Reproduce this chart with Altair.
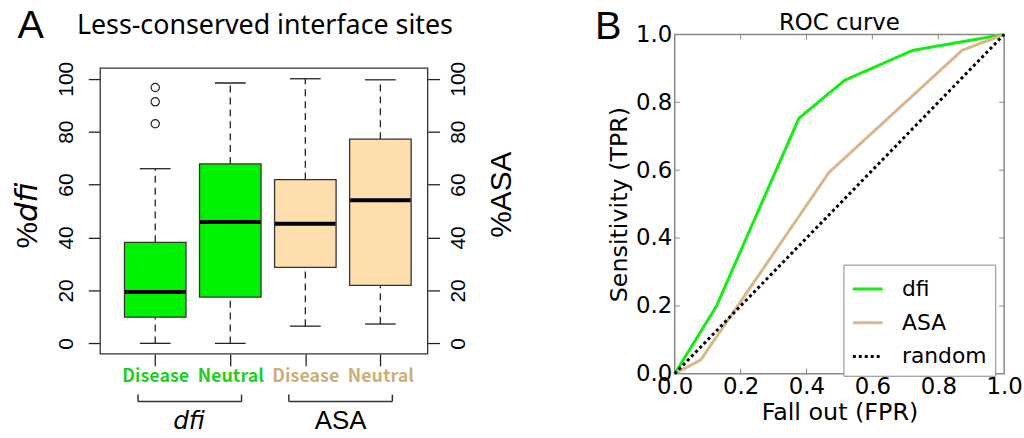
import altair as alt
import pandas as pd

# ---------------- Panel A data (box plots) ----------------
box_labels = ["Disease", "Neutral", "Disease", "Neutral"]
box_groups = ["dfi", "dfi", "ASA", "ASA"]
box_pos = [1, 2, 3, 4]
whisker_low = [0.0, 0.0, 6.5, 7.3]
quart1 = [9.9, 17.5, 28.7, 21.9]
medians = [19.4, 45.9, 45.2, 54.1]
quart3 = [38.2, 67.8, 61.9, 77.2]
whisker_high = [66.0, 98.4, 100.0, 99.6]
outlier_pos = [1, 1, 1]
outlier_val = [83.0, 91.3, 96.7]
y_ticks = [0, 20, 40, 60, 80, 100]

group_names = ["dfi", "ASA"]
group_center = [1.45, 3.47]
bracket_start = [0.77, 2.78]
bracket_end = [2.15, 4.16]

# ---------------- Panel B data (ROC) ----------------
dfi_fpr = [0.0, 0.127, 0.377, 0.516, 0.722, 1.0]
dfi_tpr = [0.0, 0.20, 0.753, 0.865, 0.953, 1.0]
asa_fpr = [0.0, 0.079, 0.468, 0.872, 1.0]
asa_tpr = [0.0, 0.041, 0.593, 0.953, 1.0]
rnd_fpr = [0.0, 1.0]
rnd_tpr = [0.0, 1.0]
roc_ticks = [0.0, 0.2, 0.4, 0.6, 0.8, 1.0]

GREEN_FILL = "#00F200"
TAN_FILL = "#FFDEAD"
GREEN_TXT = "#1DD01D"
TAN_TXT = "#CDAE78"
GREEN_LINE = "#11EE11"
TAN_LINE = "#D8B888"

SANS = "Liberation Sans"
JP = "Noto Sans CJK JP"
NOTO = "Noto Sans"
DJ = "DejaVu Sans"

WA = 330
FRAME_H = 288          # framed box-plot area
TOP_GAP = 34           # empty band above the frame (aligns with panel B)
HA = FRAME_H + TOP_GAP
WB, HB = 332, 342

df_box = pd.DataFrame({
    "pos": box_pos, "label": box_labels, "group": box_groups,
    "low": whisker_low, "q1": quart1, "med": medians, "q3": quart3, "high": whisker_high,
})
df_out = pd.DataFrame({"pos": outlier_pos, "val": outlier_val})
df_grp = pd.DataFrame({"name": group_names, "c": group_center,
                       "x0": bracket_start, "x1": bracket_end})

ppu = FRAME_H / 108.0
xscale = alt.Scale(domain=[0.333, 4.564], nice=False, zero=False)
yscale = alt.Scale(domain=[-4, 104 + TOP_GAP / ppu], nice=False, zero=False)

label_expr = "[" + ",".join("'%s'" % s for s in box_labels) + "][datum.value - 1]"

xaxis = alt.Axis(values=box_pos, labelExpr=label_expr, grid=False, domain=False,
                 tickSize=12, tickColor="#222", tickWidth=1.3,
                 labelFont=JP, labelFontWeight="bold", labelFontSize=18,
                 labelPadding=2,
                 labelColor={"condition": {"test": "datum.value <= 2", "value": GREEN_TXT},
                             "value": TAN_TXT},
                 title=None)

yleft = alt.Axis(orient="left", values=y_ticks, labelAngle=270, labelFont=SANS,
                 labelFontSize=21, labelColor="black", tickSize=12, tickColor="#222",
                 tickWidth=1.3, labelPadding=12, grid=False, domain=False, title=None)
yright = alt.Axis(orient="right", values=y_ticks, labelAngle=270, labelFont=SANS,
                  labelFontSize=21, labelColor="black", tickSize=12, tickColor="#222",
                  tickWidth=1.3, labelPadding=8, grid=False, domain=False,
                  title="%ASA", titleAngle=270, titleBaseline="top", titleFont=SANS,
                  titleFontSize=30, titleFontWeight="normal", titleColor="black",
                  titlePadding=18)


def X(field):
    return alt.X(field, scale=xscale, axis=xaxis)


base = alt.Chart(df_box)

frame = alt.Chart(pd.DataFrame({"k": [0]})).mark_rect(
    fill="white", stroke="#333", strokeWidth=1.3).encode(
    x=alt.value(0), x2=alt.value(WA), y=alt.value(TOP_GAP), y2=alt.value(HA))

whisk_up = base.mark_rule(color="#222", strokeWidth=1.3, strokeDash=[7, 5]).encode(
    x=X("pos:Q"), y=alt.Y("q3:Q", scale=yscale, axis=yleft), y2="high:Q")
whisk_dn = base.mark_rule(color="#222", strokeWidth=1.3, strokeDash=[7, 5]).encode(
    x=X("pos:Q"), y=alt.Y("low:Q", scale=yscale, axis=yright), y2="q1:Q")
cap_hi = base.mark_tick(orient="horizontal", size=31, thickness=1.3, color="#222",
                        opacity=1).encode(
    x=X("pos:Q"), y=alt.Y("high:Q", scale=yscale, axis=None))
cap_lo = base.mark_tick(orient="horizontal", size=31, thickness=1.3, color="#222",
                        opacity=1).encode(
    x=X("pos:Q"), y=alt.Y("low:Q", scale=yscale, axis=None))
boxes = base.mark_bar(width=62, stroke="#333", strokeWidth=1.3, opacity=1).encode(
    x=X("pos:Q"),
    y=alt.Y("q1:Q", scale=yscale, axis=None),
    y2="q3:Q",
    color=alt.Color("group:N", scale=alt.Scale(domain=["dfi", "ASA"],
                    range=[GREEN_FILL, TAN_FILL]), legend=None),
)
med = base.mark_tick(orient="horizontal", size=61, thickness=4, color="black",
                     opacity=1).encode(
    x=X("pos:Q"), y=alt.Y("med:Q", scale=yscale, axis=None))
outl = alt.Chart(df_out).mark_point(shape="circle", filled=False, size=70, color="#222",
                                   strokeWidth=1.2, opacity=1).encode(
    x=X("pos:Q"), y=alt.Y("val:Q", scale=yscale, axis=None))

gbase = alt.Chart(df_grp)
br_h = gbase.mark_rule(color="#333", strokeWidth=1.5).encode(
    x=X("x0:Q"), x2="x1:Q", y=alt.value(HA + 48))
br_l = gbase.mark_rule(color="#333", strokeWidth=1.5).encode(
    x=X("x0:Q"), y=alt.value(HA + 41), y2=alt.value(HA + 48))
br_r = gbase.mark_rule(color="#333", strokeWidth=1.5).encode(
    x=X("x1:Q"), y=alt.value(HA + 41), y2=alt.value(HA + 48))
g_txt_it = gbase.transform_filter("datum.name == 'dfi'").mark_text(
    font=DJ, fontSize=25, fontStyle="italic", color="black", baseline="middle").encode(
    x=X("c:Q"), y=alt.value(HA + 68), text="name:N")
g_txt_rm = gbase.transform_filter("datum.name != 'dfi'").mark_text(
    font=SANS, fontSize=26, color="black", baseline="middle").encode(
    x=X("c:Q"), y=alt.value(HA + 68), text="name:N")

one = pd.DataFrame({"k": [0]})
letter_a = alt.Chart(one).mark_text(text="A", font=SANS, fontSize=40, color="black",
                                    baseline="middle").encode(
    x=alt.value(-70), y=alt.value(TOP_GAP - 42))
title_a = alt.Chart(one).mark_text(text="Less-conserved interface sites", font=NOTO,
                                   fontSize=27, color="black", baseline="middle").encode(
    x=alt.value(166), y=alt.value(TOP_GAP - 42))
pct = alt.Chart(one).mark_text(text="%", font=SANS, fontSize=30, color="black", angle=270,
                               align="right", baseline="middle").encode(
    x=alt.value(-73), y=alt.value(TOP_GAP + 155))
dfi_t = alt.Chart(one).mark_text(text="dfi", font=DJ, fontSize=31, fontStyle="italic",
                                 color="black", angle=270, align="left",
                                 baseline="middle").encode(
    x=alt.value(-73), y=alt.value(TOP_GAP + 155))

panel_a = alt.layer(
    frame, whisk_up, whisk_dn, cap_hi, cap_lo, boxes, med, outl,
    br_h, br_l, br_r, g_txt_it, g_txt_rm, letter_a, title_a, pct, dfi_t,
).resolve_axis(y="independent").properties(
    width=WA, height=HA, view=alt.ViewBackground(stroke=None))

# ---------------- Panel B ----------------
roc_rows = []
for name, xs, ys in [("dfi", dfi_fpr, dfi_tpr), ("ASA", asa_fpr, asa_tpr),
                     ("random", rnd_fpr, rnd_tpr)]:
    for i, (a, b) in enumerate(zip(xs, ys)):
        roc_rows.append({"series": name, "fpr": a, "tpr": b, "idx": i})
df_roc = pd.DataFrame(roc_rows)

rx = alt.Scale(domain=[0, 1], nice=False)
ry = alt.Scale(domain=[0, 1], nice=False)
bx_axis = alt.Axis(values=roc_ticks, format=".1f", grid=False, domain=False, ticks=False,
                   labelFont=DJ, labelFontSize=23, labelColor="black", labelPadding=2,
                   title="Fall out (FPR)", titleFont=DJ, titleFontSize=24,
                   titleFontWeight="normal", titleColor="black", titlePadding=2,
                   labelFlush=False)
by_axis = alt.Axis(values=roc_ticks, format=".1f", grid=False, domain=False, ticks=False,
                   labelFont=DJ, labelFontSize=23, labelColor="black", labelPadding=3,
                   title="Sensitivity (TPR)", titleFont=DJ, titleFontSize=24,
                   titleFontWeight="normal", titleColor="black", titlePadding=4,
                   labelFlush=False)
series_dom = ["dfi", "ASA", "random"]
leg = alt.Legend(orient="none", legendX=170, legendY=232, title=None, strokeColor="#888",
                 fillColor="white", padding=8, labelFont=DJ, labelFontSize=22,
                 labelColor="black", symbolType="stroke", symbolSize=900,
                 symbolStrokeWidth=3, labelOffset=18, rowPadding=6)

lines = alt.Chart(df_roc).mark_line(strokeWidth=3).encode(
    x=alt.X("fpr:Q", scale=rx, axis=bx_axis),
    y=alt.Y("tpr:Q", scale=ry, axis=by_axis),
    color=alt.Color("series:N", scale=alt.Scale(domain=series_dom,
                    range=[GREEN_LINE, TAN_LINE, "black"]), legend=leg),
    strokeDash=alt.StrokeDash("series:N", scale=alt.Scale(domain=series_dom,
                              range=[[1, 0], [1, 0], [3, 3]]), legend=leg),
    order="idx:Q",
)

df_tk = pd.DataFrame({"v": [0.2, 0.4, 0.6, 0.8]})
tk = alt.Chart(df_tk)
tk_b = tk.mark_rule(color="#888", strokeWidth=1).encode(
    x=alt.X("v:Q", scale=rx, axis=bx_axis), y=alt.value(HB), y2=alt.value(HB - 5))
tk_t = tk.mark_rule(color="#888", strokeWidth=1).encode(
    x=alt.X("v:Q", scale=rx, axis=bx_axis), y=alt.value(0), y2=alt.value(5))
tk_l = tk.mark_rule(color="#888", strokeWidth=1).encode(
    y=alt.Y("v:Q", scale=ry, axis=by_axis), x=alt.value(0), x2=alt.value(5))
tk_r = tk.mark_rule(color="#888", strokeWidth=1).encode(
    y=alt.Y("v:Q", scale=ry, axis=by_axis), x=alt.value(WB), x2=alt.value(WB - 5))

letter_b = alt.Chart(one).mark_text(text="B", font=SANS, fontSize=40, color="black",
                                    baseline="middle").encode(x=alt.value(-67), y=alt.value(-7))
title_b = alt.Chart(one).mark_text(text="ROC curve", font=DJ, fontSize=23, color="black",
                                   baseline="middle").encode(x=alt.value(WB / 2),
                                                             y=alt.value(-11))

panel_b = alt.layer(lines, tk_b, tk_t, tk_l, tk_r, letter_b, title_b).properties(
    width=WB, height=HB, view=alt.ViewBackground(stroke="#888", strokeWidth=1.5))

chart = alt.hconcat(panel_a, panel_b, spacing=78).resolve_scale(
    color="independent", strokeDash="independent", x="independent", y="independent",
).properties(
    padding={"left": 12, "top": 5, "right": 0, "bottom": 0},
    background="white",
)

chart.save("out.html", embed_options={"renderer": "svg", "actions": False})
